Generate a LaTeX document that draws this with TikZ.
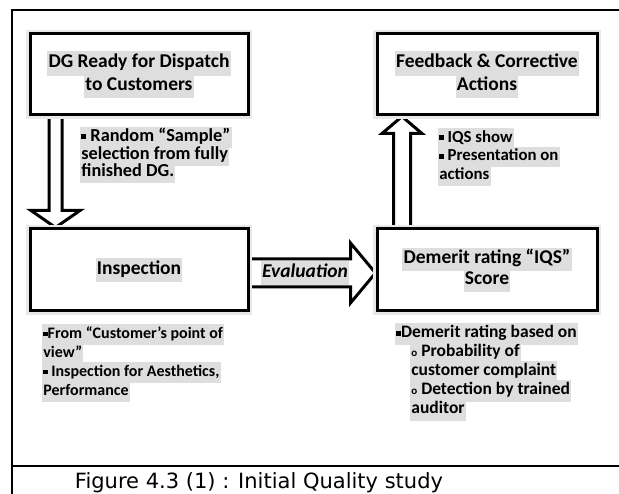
\documentclass[tikz,border=0pt]{standalone}
\usepackage{fontspec}
\setmainfont{Carlito}
\newfontfamily\capfont{DejaVu Sans}
\usetikzlibrary{backgrounds,calc}
\definecolor{glow}{gray}{0.87}
\newcommand{\gl}[1]{{\setlength{\fboxsep}{1.2pt}\colorbox{glow}{\strut #1}}}
\newcommand{\sqb}{\raisebox{0.13em}{\rule{0.27em}{0.27em}}}
\newcommand{\ob}{{\fontsize{11}{11}\selectfont o}}
\AtBeginDocument{\lineskiplimit=-50pt\relax}
\tikzset{
  box/.style={draw, line width=3pt, fill=white, minimum width=218pt, minimum height=81pt,
    align=center, inner sep=0pt, font=\bfseries\fontsize{19.5}{22.5}\selectfont,
    preaction={draw=black!9, line width=8pt}},
  note/.style={anchor=west, align=left, inner sep=0pt},
  barrow/.style={draw, line width=3pt, fill=white, line join=miter},
  frame/.style={draw, line width=1.5pt}
}
\begin{document}
\begin{tikzpicture}[x=1pt,y=-1pt]
\useasboundingbox (0,0) rectangle (619,494);
\clip (0,0) rectangle (619,494);
% frame
\draw[frame] (12,500) -- (12,10) -- (625,10);
\draw[frame] (12,466) -- (625,466);
% boxes
\node[box] (b1) at (139,74.5) {\gl{DG Ready for Dispatch}\\\gl{to Customers}};
\node[box, minimum width=220pt] (b2) at (487,74.5) {\gl{Feedback \& Corrective}\\\gl{Actions}};
\node[box, minimum height=82pt] (b3) at (139,270) {\gl{Inspection}};
\node[box, minimum width=220pt, minimum height=82pt, font=\bfseries\fontsize{19.5}{21}\selectfont] (b4) at (487,270) {\gl{Demerit rating “IQS”}\\\gl{Score}};
% block arrows
\path (b1.south west) ++(27,0) coordinate (d0);
\path (b3.north west) ++(27,0) coordinate (d1);
\path (b4.north west) ++(26.5,0) coordinate (u0);
\path (b2.south west) ++(26.5,0) coordinate (u1);
\path (b3.east) ++(0,3) coordinate (e0);
\path (b4.west) ++(0,3) coordinate (e1);
\begin{scope}[on background layer]
\fill[white] (0,0) rectangle (619,494);
\draw[barrow] ($(d0)+(-6.5,-6)$) -- ($(d1)+(-6.5,-17)$) -- ($(d1)+(-24.5,-17)$) -- (d1)
  -- ($(d1)+(24.5,-17)$) -- ($(d1)+(6.5,-17)$) -- ($(d0)+(6.5,-6)$) -- cycle;
\draw[barrow] ($(u0)+(-8.5,6)$) -- ($(u1)+(-8.5,17)$) -- ($(u1)+(-20,17)$) -- (u1)
  -- ($(u1)+(20,17)$) -- ($(u1)+(8.5,17)$) -- ($(u0)+(8.5,6)$) -- cycle;
\draw[barrow] ($(e0)+(-6,-14)$) -- ($(e1)+(-25,-14)$) -- ($(e1)+(-25,-30)$) -- (e1)
  -- ($(e1)+(-25,30)$) -- ($(e1)+(-25,14)$) -- ($(e0)+(-6,14)$) -- cycle;
\end{scope}
\node[font=\bfseries\itshape\fontsize{19.5}{22}\selectfont, inner sep=0pt] (ev) at (305,273) {\gl{Evaluation}};
% notes
\node[note, font=\bfseries\fontsize{18.3}{17.5}\selectfont] (n1) at (80,155)
  {\gl{\sqb\ Random “Sample”}\\\gl{selection from fully}\\\gl{finished DG.}};
\node[note, font=\bfseries\fontsize{16.8}{18.5}\selectfont] (n2) at (438,157)
  {\gl{\sqb\ IQS show}\\\gl{\sqb\ Presentation on}\\\gl{actions}};
\node[note, font=\bfseries\fontsize{16}{19}\selectfont] (n3) at (42,363)
  {\gl{\sqb From “Customer’s point of}\\\gl{view”}\\\gl{\sqb\ Inspection for Aesthetics,}\\\gl{Performance}};
\node[note, font=\bfseries\fontsize{17.5}{19}\selectfont] (n4) at (395,372)
  {\gl{\sqb Demerit rating based on}\\\hspace*{15pt}\gl{\ob\ Probability of}\\\hspace*{15pt}\gl{customer complaint}\\\hspace*{15pt}\gl{\ob\ Detection by trained}\\\hspace*{15pt}\gl{auditor}};
% caption
\node[font=\capfont\fontsize{21}{25}\selectfont, anchor=base, inner sep=0pt] (cap) at (259,488) {Figure 4.3 (1) : Initial Quality study};
\end{tikzpicture}
\end{document}
